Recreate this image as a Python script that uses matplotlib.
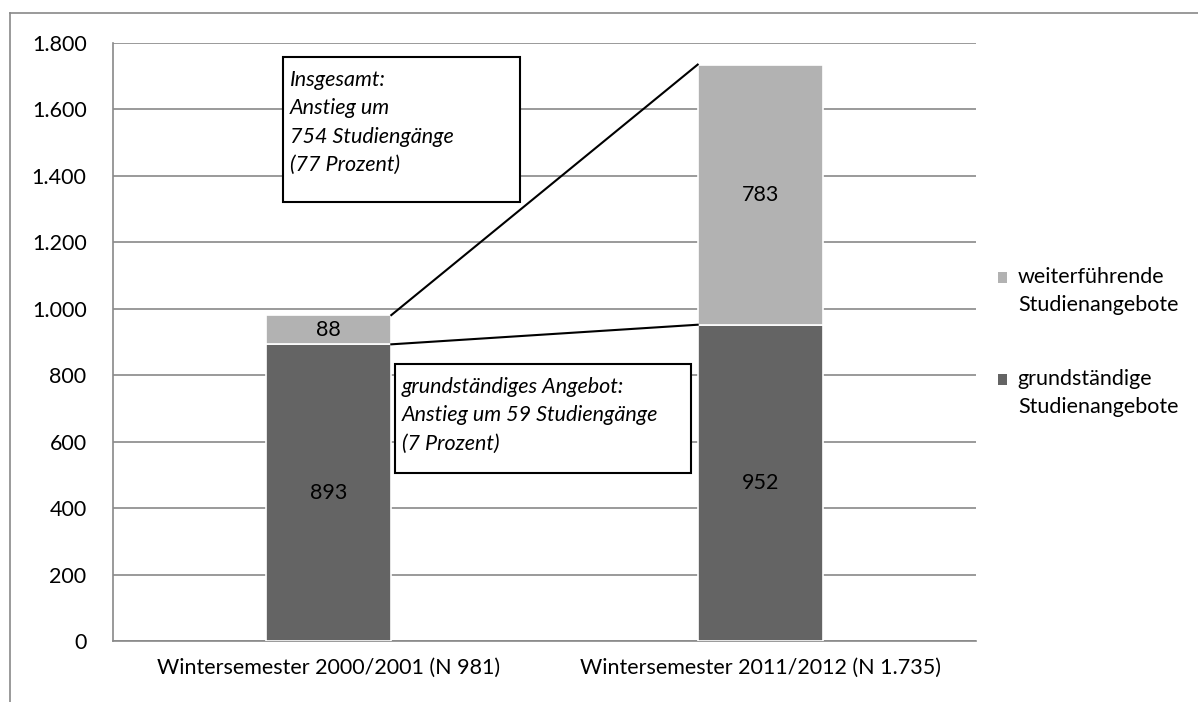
import matplotlib
matplotlib.use('Agg')
import matplotlib.pyplot as plt
from matplotlib.patches import Patch, Rectangle
from matplotlib.lines import Line2D
from matplotlib.legend_handler import HandlerPatch

plt.rcParams['font.family'] = ['Lato', 'DejaVu Sans']

# data
semesters = ['Wintersemester 2000/2001 (N 981)', 'Wintersemester 2011/2012 (N 1.735)']
grund = [893, 952]
weiter = [88, 783]
yticks = [0, 200, 400, 600, 800, 1000, 1200, 1400, 1600, 1800]
ytick_labels = ['0', '200', '400', '600', '800', '1.000', '1.200', '1.400', '1.600', '1.800']
note_total = 'Insgesamt:\nAnstieg um\n754 Studiengänge\n(77 Prozent)'
note_grund = 'grundständiges Angebot:\nAnstieg um 59 Studiengänge\n(7 Prozent)'

dark = '#646464'
light = '#b2b2b2'
grid_c = '#898989'
fs = 15.5


class UpSquare(HandlerPatch):
    # legend square next to the first line of a two-line label
    def create_artists(self, legend, orig_handle, xdescent, ydescent, width, height, fontsize, trans):
        p = Rectangle((-xdescent, -ydescent + 10), width, height, facecolor=orig_handle.get_facecolor(),
                      edgecolor='none', transform=trans)
        return [p]


fig = plt.figure(figsize=(11.98, 7.02), dpi=100)
ax = fig.add_axes([113 / 1198, 1 - 641 / 702, 863 / 1198, 598 / 702])

x = [0, 1]
w = 0.29
ax.bar(x, grund, width=w, color=dark, edgecolor='white', linewidth=1.2, zorder=3)
ax.bar(x, weiter, width=w, bottom=grund, color=light, edgecolor='white', linewidth=1.2, zorder=3)

for i in range(2):
    ax.text(x[i], grund[i] / 2, str(grund[i]), ha='center', va='center', fontsize=fs, zorder=5)
    ax.text(x[i], grund[i] + weiter[i] / 2, str(weiter[i]), ha='center', va='center', fontsize=fs, zorder=5)

# connector lines between the bars
tot = [grund[i] + weiter[i] for i in range(2)]
ax.plot([x[0] + w / 2, x[1] - w / 2], [tot[0], tot[1]], color='black', lw=1.5, zorder=4)
ax.plot([x[0] + w / 2, x[1] - w / 2], [grund[0], grund[1]], color='black', lw=1.5, zorder=4)

ax.set_xlim(-0.5, 1.5)
ax.set_ylim(0, 1800)
ax.set_yticks(yticks)
ax.set_yticklabels(ytick_labels, fontsize=fs)
ax.set_xticks(x)
ax.set_xticklabels(semesters, fontsize=fs)
ax.tick_params(axis='both', length=0)
ax.tick_params(axis='y', pad=19)
ax.tick_params(axis='x', pad=12)
ax.yaxis.grid(True, color=grid_c, lw=1.2, zorder=0)
ax.set_axisbelow(True)
for s in ['top', 'right']:
    ax.spines[s].set_visible(False)
for s in ['left', 'bottom']:
    ax.spines[s].set_color(grid_c)
    ax.spines[s].set_linewidth(1.2)


def px2data(px, py):
    return (px - 113) / 431.5 - 0.5, (641 - py) / 598 * 1800


# annotation boxes
for (x0, y0, x1, y1), txt in [((283, 57, 520, 202), note_total), ((395, 364, 691, 473), note_grund)]:
    a0, b1 = px2data(x0, y0)
    a1, b0 = px2data(x1, y1)
    ax.add_patch(Rectangle((a0, b0), a1 - a0, b1 - b0, facecolor='white', edgecolor='black', lw=1.5, zorder=6))
    tx, ty = px2data(x0 + 7, y0 + 13)
    ax.text(tx, ty, txt, fontsize=fs, style='italic', ha='left', va='top', linespacing=1.52, zorder=7)

handles = [Patch(facecolor=light, label='weiterführende\nStudienangebote'),
           Patch(facecolor=dark, label='grundständige\nStudienangebote')]
leg = fig.legend(handles=handles, loc='center left', bbox_to_anchor=(998 / 1198, 1 - 342 / 702), frameon=False,
                 fontsize=fs, handlelength=0.42, handleheight=0.42, handletextpad=0.5, labelspacing=2.55,
                 borderpad=0, borderaxespad=0, handler_map={Patch: UpSquare()})
for t in leg.get_texts():
    t.set_linespacing(1.45)

# outer frame of the figure
fig.add_artist(Line2D([10 / 1198, 10 / 1198], [0, 1 - 13 / 702], color=grid_c, lw=1.2))
fig.add_artist(Line2D([10 / 1198, 1], [1 - 13 / 702, 1 - 13 / 702], color=grid_c, lw=1.2))

fig.savefig('out.png', dpi=100)
